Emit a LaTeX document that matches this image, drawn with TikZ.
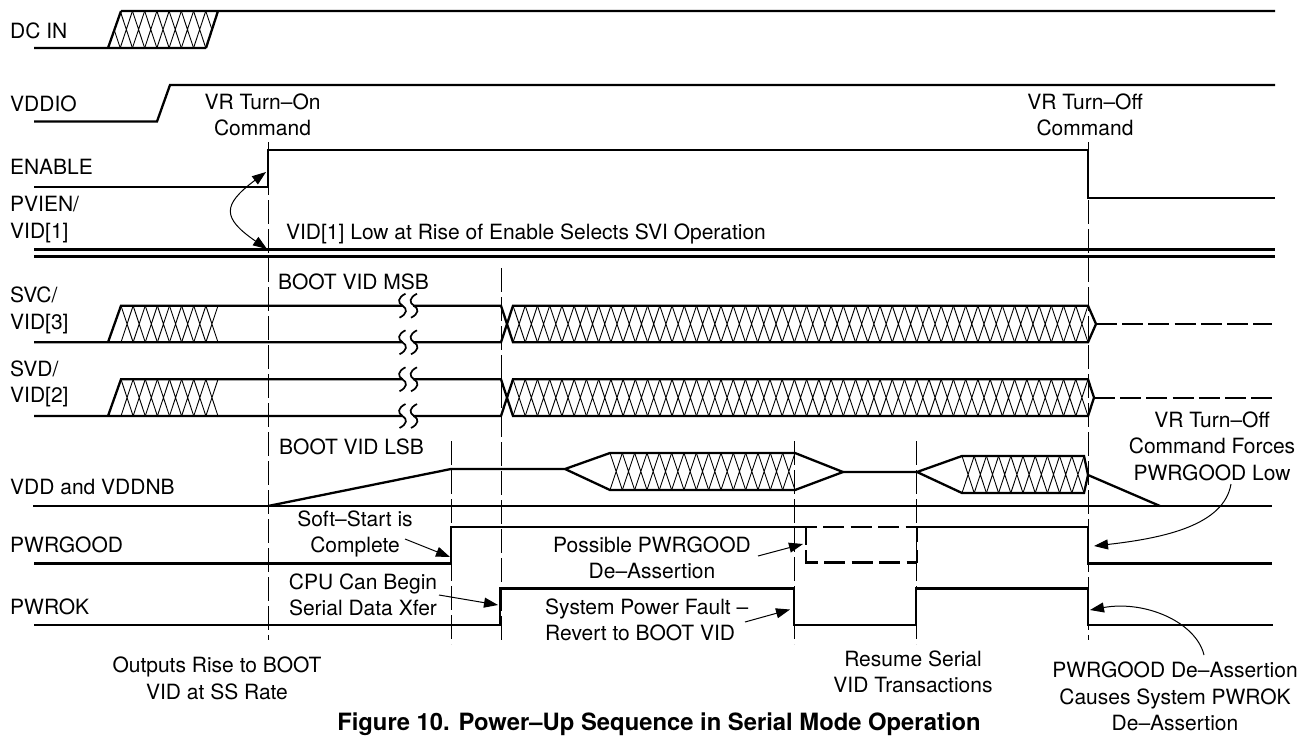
\documentclass[tikz,border=0pt]{standalone}
\usepackage{fontspec}
\setmainfont{TeX Gyre Heros}
\usetikzlibrary{arrows.meta}
\tikzset{
  sig/.style={line width=2.3pt,line join=miter,line cap=butt},
  sigdash/.style={sig,dash pattern=on 21pt off 5.2pt},
  boxdash/.style={sig,dash pattern=on 21pt off 6.5pt},
  hatchline/.style={line width=0.9pt},
  vdash/.style={line width=0.9pt,dash pattern=on 24pt off 5pt},
  lab/.style={anchor=west,inner sep=0pt,align=left},
  note/.style={inner sep=0pt,align=center},
  ann/.style={line width=1pt,-{Triangle[length=14pt,width=10pt]}},
  annb/.style={line width=1pt,{Triangle[length=14pt,width=10pt]}-{Triangle[length=14pt,width=10pt]}}
}
\newcommand{\xhatch}[5]{\pgfmathsetmacro\xstp{(#2-#1)/#5}\foreach \k in {1,...,#5}{%
  \pgfmathsetmacro\xa{#1+(\k-1)*\xstp}%
  \pgfmathsetmacro\xb{#1+\k*\xstp}%
  \draw[hatchline] (\xa,#3)--(\xb,#4) (\xa,#4)--(\xb,#3);}}
\newcommand{\brk}[1]{%
  \fill[white] (403,#1-3)rectangle(413,#1+3);
  \foreach \c in {402.5,414}{%
    \draw[line width=1.7pt] (\c+3,#1-12) .. controls (\c-5,#1-8) and (\c-5,#1-3) .. (\c,#1)
      .. controls (\c+5,#1+3) and (\c+5,#1+8) .. (\c-3,#1+12);}}
\begin{document}
\begin{tikzpicture}[x=1pt,y=-1pt,every node/.style={font=\fontsize{21}{26.5}\selectfont}]
\useasboundingbox (0,0) rectangle (1309,736);
% vertical time markers
\draw[vdash] (268,142)--(268,640);
\draw[vdash] (451,441)--(451,644);
\draw[vdash] (501,268)--(501,644);
\draw[vdash] (794,441)--(794,644);
\draw[vdash] (916,441)--(916,644);
\draw[vdash] (1088,142)--(1088,640);
% DC IN
\begin{scope}
\clip (108,48)--(121,11)--(218,11)--(206,48)--cycle;
\xhatch{108}{218}{11}{48}{9}
\end{scope}
\draw[sig] (34,48)--(206,48) (108,48)--(121,11) (206,48)--(218,11) (121,11)--(1275,11);
% VDDIO
\draw[sig] (34,121.5)--(157,121.5)--(170,85)--(1275,85);
% ENABLE
\draw[sig] (34,187)--(268,187)--(268,150)--(1088,150)--(1088,198)--(1275,198);
% PVIEN
\draw[sig] (34,249.5)--(1275,249.5) (34,256.5)--(1275,256.5);
% SVC / SVD
\foreach \t/\b/\tp in {305.7/342.3/1096,379.3/416/1094}{
  \xhatch{121}{218}{\t}{\b}{8}
  \xhatch{513}{1088}{\t}{\b}{47}
  \pgfmathsetmacro\m{(\t+\b)/2}
  \draw[sig] (34,\b)--(108,\b)--(121,\t)--(501,\t)--(513,\b)--(1088,\b)--(\tp,\m)--(1088,\t)--(513,\t)--(501,\b)--(108,\b);
  \draw[sigdash] (\tp,\m)--(1272,\m);
  \brk{\t}
  \brk{\b}
}
% VDD
\xhatch{610}{795}{453}{490}{15}
\xhatch{962}{1084}{456}{493}{10}
\draw[sig] (33,506)--(1272,506);
\draw[sig] (268,506)--(451,469)--(565,469)--(610,453)--(795,453)--(843,472)--(795,490)--(610,490)--(565,469);
\draw[sig] (843,472)--(917,472)--(962,456)--(1084,456)--(1088,475)--(1084,493)--(962,493)--(917,472);
\draw[sig] (1088,475)--(1160,506);
% PWRGOOD
\draw[sig] (34,563.5)--(451,563.5)--(451,527)--(817,527) (917,527)--(1088,527)--(1088,563.5)--(1272,563.5);
\draw[boxdash] (823,527)--(917,527);
\draw[sig] (806,527)--(806,545) (806,550)--(806,562.5)--(818,562.5) (917,562.5)--(917,550) (917,542)--(917,527);
\draw[boxdash] (824,562.5)--(917,562.5);
% PWROK
\draw[sig] (34,625)--(500,625)--(500,588.5)--(794,588.5)--(794,625)--(916,625)--(916,588.5)--(1088,588.5)--(1088,625)--(1273,625);
% signal labels
\node[lab] (ldc) at (10,30.5) {DC IN};
\node[lab] (lio) at (10,104) {VDDIO};
\node[lab] (len) at (10,167) {ENABLE};
\node[lab] (lpv) at (10,219.5) {PVIEN/\\VID[1]};
\node[lab] (lsc) at (10,310.5) {SVC/\\VID[3]};
\node[lab] (lsd) at (10,384) {SVD/\\VID[2]};
\node[lab] (lvd) at (10,487) {VDD and VDDNB};
\node[lab] (lpg) at (10,545) {PWRGOOD};
\node[lab] (lpo) at (10,607) {PWROK};
% notes
\node[note] (non) at (262.5,115) {VR Turn–On\\Command};
\node[note] (nof) at (1085,115) {VR Turn–Off\\Command};
\node[note] (nsv) at (526,234) {VID[1] Low at Rise of Enable Selects SVI Operation};
\node[note] (nms) at (353.5,281.5) {BOOT VID MSB};
\node[note] (nls) at (351.5,446.5) {BOOT VID LSB};
\node[note] (nvf) at (1212,446) {VR Turn–Off\\Command Forces\\PWRGOOD Low};
\node[note] (nss) at (355,534) {Soft–Start is\\Complete};
\node[note] (ncp) at (363,595) {CPU Can Begin\\Serial Data Xfer};
\node[note] (npp) at (652,558) {Possible PWRGOOD\\De–Assertion};
\node[lab] (nsp) at (545,620) {System Power Fault –\\Revert to BOOT VID};
\node[note] (nou) at (217,678.5) {Outputs Rise to BOOT\\VID at SS Rate};
\node[note] (nre) at (913,672) {Resume Serial\\VID Transactions};
\node[note] (npa) at (1175,696.5) {PWRGOOD De–Assertion\\Causes System PWROK\\De–Assertion};
\node[note,anchor=base,font=\fontsize{23.8}{28}\selectfont\bfseries] (ttl) at (659,730.5) {Figure 10. Power–Up Sequence in Serial Mode Operation};
% arrow ends
\coordinate (a1) at (266,172);
\coordinate (a2) at (267,249);
\coordinate (b1) at (405,539);
\coordinate (b2) at (450,557);
\coordinate (c1) at (439,595);
\coordinate (c2) at (498,605);
\coordinate (d1) at (758,556);
\coordinate (d2) at (803,544);
\coordinate (e1) at (745,622);
\coordinate (e2) at (790,609.5);
\coordinate (f1) at (1231,484);
\coordinate (f2) at (1094,546);
\coordinate (g1) at (1204,655);
\coordinate (g2) at (1090,610);
\draw[annb] (a1) .. controls (222,205) and (222,218) .. (a2);
\draw[ann] (b1)--(b2);
\draw[ann] (c1)--(c2);
\draw[ann] (d1)--(d2);
\draw[ann] (e1)--(e2);
\draw[ann] (f1) .. controls (1224,525) and (1165,538) .. (f2);
\draw[ann] (g1) .. controls (1196,622) and (1145,600) .. (g2);
\end{tikzpicture}
\end{document}
